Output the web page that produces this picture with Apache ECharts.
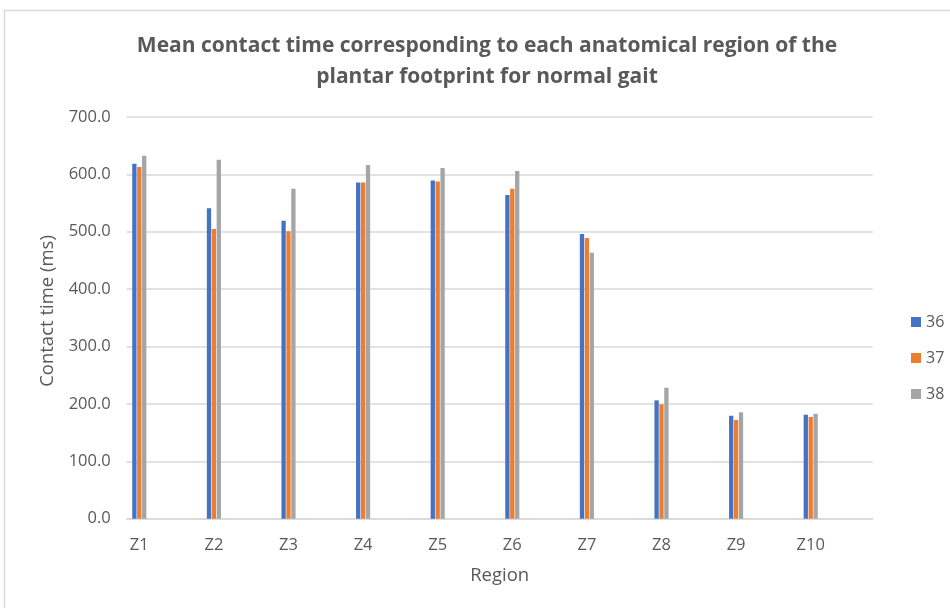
<!DOCTYPE html>
<html>
<head>
<meta charset="utf-8">
<script src="https://cdn.jsdelivr.net/npm/echarts@6/dist/echarts.min.js"></script>
<style>
  html, body { margin: 0; padding: 0; background: #ffffff; }
  #chart { width: 950px; height: 608px; }
</style>
</head>
<body>
<div id="chart"></div>
<script>
// Regions of the plantar footprint
const categories = ['Z1', 'Z2', 'Z3', 'Z4', 'Z5', 'Z6', 'Z7', 'Z8', 'Z9', 'Z10'];
// Mean contact time (ms) per shoe size
const size36 = [618.5, 540.8, 519.2, 586.0, 589.5, 564.0, 496.0, 206.2, 179.4, 181.2];
const size37 = [612.7, 504.7, 500.7, 586.0, 587.8, 575.0, 489.0, 199.3, 172.0, 177.2];
const size38 = [632.4, 625.4, 575.0, 616.2, 611.0, 605.7, 463.4, 228.2, 185.4, 183.0];
const seriesNames = ['36', '37', '38'];
const yTicks = { min: 0, max: 700, interval: 100 };

const FONT = '"Open Sans", "Noto Sans", sans-serif';
const TEXT = '#595959';
const LINE = '#d9d9d9';
const COLORS = ['#4472C4', '#ED7D31', '#A5A5A5'];

const chart = echarts.init(document.getElementById('chart'), null, { renderer: 'canvas' });

const barSeries = [size36, size37, size38].map((vals, i) => ({
  name: seriesNames[i],
  type: 'bar',
  xAxisIndex: 0,
  yAxisIndex: 0,
  data: vals,
  barWidth: 4.3,
  barGap: '14%',
  itemStyle: { color: COLORS[i] }
}));

chart.setOption({
  animation: false,
  backgroundColor: '#ffffff',
  color: COLORS,
  textStyle: { fontFamily: FONT },
  title: {
    text: 'Mean contact time corresponding to each anatomical region of the\nplantar footprint for normal gait',
    left: 482,
    top: 26,
    textAlign: 'center',
    textStyle: {
      fontFamily: FONT,
      fontSize: 21,
      fontWeight: 'bold',
      color: TEXT,
      lineHeight: 31
    }
  },
  legend: {
    orient: 'vertical',
    left: 906,
    top: 309,
    itemWidth: 10,
    itemHeight: 10,
    itemGap: 20,
    icon: 'rect',
    data: seriesNames,
    textStyle: { fontFamily: FONT, fontSize: 16, color: TEXT }
  },
  grid: [
    // bars and category labels
    { left: 102, right: 102, top: 117, bottom: 89.3 },
    // value scale, gridlines and baseline
    { left: 126.7, right: 77.3, top: 117, bottom: 89.3 }
  ],
  xAxis: [
    {
      type: 'category',
      gridIndex: 0,
      data: categories,
      boundaryGap: true,
      axisLine: { show: false },
      axisTick: { show: false },
      axisLabel: { color: TEXT, fontSize: 16.5, fontFamily: FONT, margin: 18 }
    },
    {
      type: 'category',
      gridIndex: 1,
      data: categories,
      axisLine: { show: true, lineStyle: { color: LINE, width: 1.5 } },
      axisTick: { show: false },
      axisLabel: { show: false },
      name: 'Region',
      nameLocation: 'middle',
      nameGap: 48,
      nameTextStyle: { color: TEXT, fontSize: 18.5, fontFamily: FONT }
    }
  ],
  yAxis: [
    {
      type: 'value',
      gridIndex: 0,
      min: yTicks.min,
      max: yTicks.max,
      interval: yTicks.interval,
      show: false
    },
    {
      type: 'value',
      gridIndex: 1,
      min: yTicks.min,
      max: yTicks.max,
      interval: yTicks.interval,
      axisLine: { show: false },
      axisTick: { show: false },
      splitLine: { show: true, lineStyle: { color: LINE, width: 1.5 } },
      axisLabel: {
        color: TEXT,
        fontSize: 16.5,
        fontFamily: FONT,
        margin: 16,
        formatter: v => v.toFixed(1)
      }
    }
  ],
  graphic: [
    {
      type: 'rect',
      silent: true,
      shape: { x: 4.5, y: 10.5, width: 1200, height: 1200 },
      style: { fill: 'none', stroke: LINE, lineWidth: 1.5 },
      z: -10
    },
    {
      type: 'text',
      silent: true,
      x: 48,
      y: 311,
      rotation: Math.PI / 2,
      style: {
        text: 'Contact time (ms)',
        fill: TEXT,
        font: '18.5px ' + FONT,
        align: 'center',
        verticalAlign: 'middle'
      }
    }
  ],
  series: barSeries
});
</script>
</body>
</html>
